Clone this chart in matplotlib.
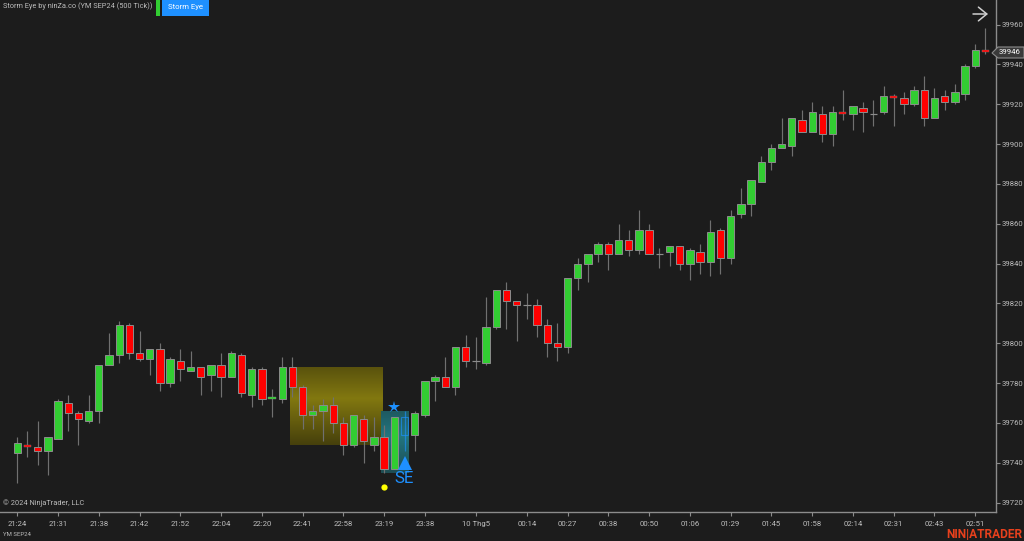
""" NinjaTrader candlestick chart, YM SEP24 500 tick, with the Storm Eye signal """

import numpy as np
from matplotlib import pyplot as plt
from matplotlib.patches import Polygon, Rectangle

plt.rcParams["font.family"] = ["Roboto", "DejaVu Sans"]

opens = [39745, 39749, 39748, 39746, 39752, 39770, 39765, 39761, 39766, 39789, 39794, 39809,
         39795, 39792, 39797, 39780, 39791, 39786, 39788, 39784, 39789, 39783, 39794, 39774,
         39787, 39772, 39772, 39788, 39778, 39764, 39766, 39769, 39760, 39749, 39762, 39749,
         39753, 39737, 39754, 39754, 39764, 39781, 39783, 39778, 39798, 39791, 39790, 39808,
         39827, 39821, 39819, 39819, 39809, 39800, 39798, 39833, 39840, 39845, 39850, 39845,
         39852, 39847, 39857, 39845, 39846, 39849, 39840, 39846, 39841, 39857, 39843, 39865,
         39870, 39881, 39891, 39898, 39899, 39912, 39906, 39915, 39905, 39916, 39915, 39918,
         39915, 39916, 39924, 39923, 39920, 39927, 39913, 39924, 39921, 39925, 39939, 39947]
highs = [39753, 39756, 39761, 39753, 39772, 39774, 39766, 39774, 39789, 39805, 39811, 39810,
         39806, 39797, 39800, 39793, 39797, 39796, 39788, 39789, 39795, 39796, 39795, 39788,
         39788, 39777, 39793, 39793, 39779, 39769, 39772, 39773, 39763, 39764, 39764, 39763,
         39759, 39763, 39766, 39766, 39781, 39784, 39793, 39798, 39804, 39803, 39823, 39827,
         39831, 39821, 39825, 39822, 39812, 39810, 39833, 39843, 39845, 39851, 39851, 39860,
         39857, 39867, 39860, 39848, 39849, 39849, 39848, 39850, 39862, 39858, 39867, 39878,
         39882, 39894, 39900, 39913, 39913, 39917, 39921, 39919, 39919, 39927, 39919, 39921,
         39922, 39929, 39925, 39926, 39929, 39934, 39928, 39927, 39930, 39940, 39950, 39958]
lows = [39730, 39743, 39739, 39734, 39752, 39756, 39749, 39760, 39760, 39789, 39790, 39792,
        39791, 39784, 39776, 39778, 39781, 39786, 39774, 39776, 39773, 39783, 39773, 39768,
        39769, 39763, 39770, 39773, 39757, 39757, 39751, 39755, 39744, 39748, 39740, 39746,
        39735, 39737, 39746, 39746, 39763, 39771, 39778, 39774, 39788, 39787, 39789, 39807,
        39807, 39801, 39812, 39803, 39793, 39791, 39795, 39827, 39831, 39841, 39837, 39845,
        39844, 39845, 39845, 39838, 39839, 39837, 39832, 39835, 39834, 39835, 39840, 39863,
        39864, 39881, 39887, 39898, 39894, 39906, 39906, 39901, 39899, 39912, 39907, 39906,
        39909, 39915, 39909, 39915, 39919, 39909, 39913, 39917, 39920, 39922, 39938, 39945]
closes = [39750, 39748, 39746, 39753, 39771, 39765, 39762, 39766, 39789, 39794, 39809, 39795,
          39792, 39797, 39780, 39792, 39787, 39788, 39783, 39789, 39783, 39795, 39775, 39787,
          39772, 39773, 39788, 39778, 39764, 39766, 39769, 39760, 39749, 39764, 39751, 39753,
          39737, 39763, 39763, 39765, 39781, 39783, 39778, 39798, 39791, 39791, 39808, 39827,
          39821, 39819, 39819, 39809, 39800, 39798, 39833, 39840, 39845, 39850, 39845, 39852,
          39847, 39857, 39845, 39845, 39849, 39840, 39847, 39841, 39856, 39843, 39864, 39870,
          39882, 39891, 39898, 39900, 39913, 39906, 39916, 39905, 39916, 39915, 39919, 39916,
          39915, 39924, 39923, 39920, 39927, 39913, 39923, 39921, 39926, 39939, 39947, 39946]

time_ticks = [0, 4, 8, 12, 16, 20, 24, 28, 32, 36, 40, 45, 50, 54, 58, 62, 66, 70, 74, 78, 82, 86, 90, 94]
time_labels = ["21:24", "21:31", "21:38", "21:42", "21:52", "22:04", "22:20", "22:41", "22:58", "23:19",
               "23:38", "10 Thg5", "00:14", "00:27", "00:38", "00:50", "01:06", "01:29", "01:45", "01:58",
               "02:14", "02:31", "02:43", "02:51"]
price_ticks = [39720, 39740, 39760, 39780, 39800, 39820, 39840, 39860, 39880, 39900, 39920, 39940, 39960]

signal_bar = 38  # drawn hollow in the signal colour
last_price = 39946

BACKGROUND = "#1c1c1c"
AXIS_GREY = "#8c8c8c"
TEXT_GREY = "#bcbcbc"
BLUE = "#1e90ff"
BODY = 0.72


def draw_candles(ax):
	""" wicks first, then bodies with their grey outline """
	for i, (o, h, l, c) in enumerate(zip(opens, highs, lows, closes)):
		if i == signal_bar:
			ax.plot([i, i], [l, h], color=BLUE, lw=0.9, alpha=0.65, zorder=3, solid_capstyle="butt")
			ax.add_patch(Rectangle((i - BODY/2, min(o, c)), BODY, abs(c - o), facecolor="none",
			                       edgecolor=BLUE, lw=0.8, alpha=0.65, zorder=4))
			continue
		ax.plot([i, i], [l, h], color="#707070", lw=0.85, zorder=3, solid_capstyle="butt")
		if o == c:
			ax.plot([i - BODY/2, i + BODY/2], [o, c], color="#8c8c8c", lw=0.85, zorder=4, solid_capstyle="butt")
			continue
		color = "#32cd32" if c > o else "#ff0000"
		# the outline would swallow the fill of a very short body
		edge = 0.25 if abs(c - o) <= 1 else 0.7
		ax.add_patch(Rectangle((i - BODY/2, min(o, c)), BODY, abs(c - o), facecolor=color,
		                       edgecolor="#8c8c8c", lw=edge, zorder=4))


def draw_signal_boxes(ax):
	""" the yellow zone and the teal zone fade towards their edges """
	shade = 1 - np.abs(np.linspace(-1, 1, 64) + 0.2)/1.2
	yellow = np.zeros((64, 1, 3))
	yellow[:, 0, 0] = (70 + 60*shade)/255
	yellow[:, 0, 1] = (64 + 56*shade)/255
	yellow[:, 0, 2] = (12 + 4*shade)/255
	ax.imshow(yellow, extent=(26.73, 35.76, 39749, 39788), aspect="auto", zorder=1, interpolation="bilinear")
	teal = np.zeros((64, 1, 3))
	teal[:, 0, 0] = (30 + 4*shade)/255
	teal[:, 0, 1] = (76 + 42*shade)/255
	teal[:, 0, 2] = (82 + 46*shade)/255
	ax.imshow(teal, extent=(35.7, 38.42, 39735, 39766), aspect="auto", zorder=2, interpolation="bilinear")
	ax.plot([37], [39768], marker="*", color=BLUE, markersize=9, markeredgewidth=0, zorder=6)
	ax.plot([38], [39740], marker="^", color=BLUE, markersize=10, markeredgewidth=0, zorder=6)
	ax.text(38, 39732, "SE", color=BLUE, fontsize=12.2, ha="center", va="center", zorder=6)
	ax.plot([36], [39728], marker="o", color="#ffff00", markersize=4.5, markeredgewidth=0, zorder=6)


def draw_furniture(fig, ax):
	""" everything NinjaTrader puts around the plot area, placed in figure pixels """
	def px(x, y):
		return x/1024, 1 - y/541

	fig.text(*px(3, 6), "Storm Eye by ninZa.co (YM SEP24 (500 Tick))", color=TEXT_GREY, fontsize=5.3, va="center")
	fig.patches.append(Rectangle(px(156, 16), 4/1024, 16/541, transform=fig.transFigure, facecolor="#32cd32"))
	fig.patches.append(Rectangle(px(162, 16), 47/1024, 16/541, transform=fig.transFigure, facecolor=BLUE))
	fig.text(*px(185, 7), "Storm Eye", color="white", fontsize=5.6, ha="center", va="center")
	fig.text(*px(3, 503), "© 2024 NinjaTrader, LLC", color=TEXT_GREY, fontsize=5.3, va="center")
	fig.text(*px(3, 534), "YM SEP24", color=TEXT_GREY, fontsize=4.3, va="center")
	fig.text(*px(1022, 534), "NIN|ATRADER", color="#e8401c", fontsize=8.6, fontweight="bold", ha="right", va="center")
	ax.annotate("", xy=px(988, 14), xytext=px(973, 14), xycoords="figure fraction", textcoords="figure fraction",
	            arrowprops=dict(arrowstyle="->,head_length=0.55,head_width=0.45", color="#d0d0d0", lw=1.1,
	                            mutation_scale=11, shrinkA=0, shrinkB=0))
	tag = [px(992, 53), px(998, 47), px(1024, 47), px(1024, 58), px(998, 58)]
	fig.patches.append(Polygon(tag, closed=True, transform=fig.transFigure, facecolor="#3a3a3a", edgecolor="#8c8c8c", lw=0.8))
	fig.text(*px(1010, 52.5), str(last_price), color="white", fontsize=5.6, ha="center", va="center")


def plot_chart():
	""" lay the axes out so that pixel positions match the NinjaTrader window """
	fig = plt.figure(figsize=(10.24, 5.41), dpi=100, facecolor=BACKGROUND)
	ax = fig.add_axes((0, 29/541, 995.5/1024, 512/541), facecolor=BACKGROUND)
	draw_signal_boxes(ax)
	draw_candles(ax)
	ax.set_xlim(-1.698, 95.99)
	ax.set_ylim(39715.33, 39972.3)
	for side in ["top", "left"]:
		ax.spines[side].set_visible(False)
	for side in ["bottom", "right"]:
		ax.spines[side].set_color(AXIS_GREY)
		ax.spines[side].set_linewidth(1.0)
	ax.yaxis.tick_right()
	ax.set_xticks(time_ticks, time_labels)
	ax.set_yticks(price_ticks, [str(p) for p in price_ticks])
	ax.tick_params(axis="both", colors=AXIS_GREY, labelcolor=TEXT_GREY, labelsize=5.6, length=3, width=0.8)
	ax.tick_params(axis="x", pad=3.5)
	ax.tick_params(axis="y", pad=1.5)
	draw_furniture(fig, ax)
	fig.savefig("out.png", dpi=100, facecolor=BACKGROUND)


if __name__ == "__main__":
	plot_chart()
